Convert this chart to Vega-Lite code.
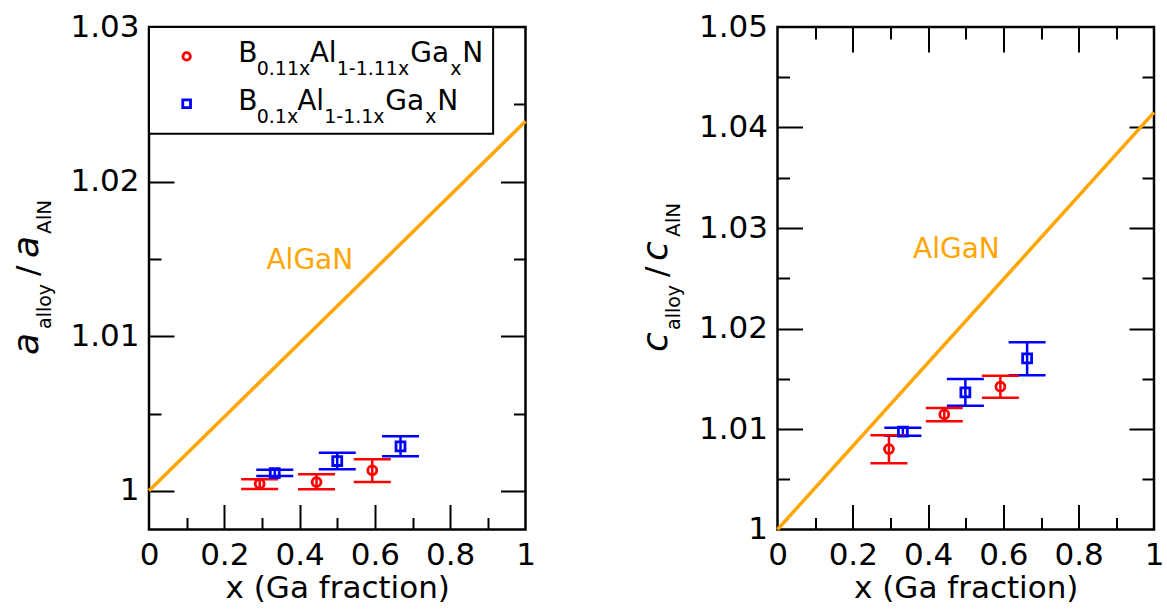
{
  "$schema": "https://vega.github.io/schema/vega-lite/v6.json",
  "padding": {"left": 8, "top": 9, "right": 0, "bottom": 0},
  "background": "white",
  "spacing": 251.5,
  "bounds": "flush",
  "config": {
    "font": "DejaVu Sans",
    "view": {"stroke": "black", "strokeWidth": 2.5},
    "axis": {
      "domain": false, "grid": false, "tickColor": "black", "tickWidth": 2,
      "labelFont": "DejaVu Sans", "labelFontSize": 31, "labelColor": "black",
      "titleFont": "DejaVu Sans", "titleFontSize": 31, "titleFontWeight": "normal", "titleColor": "black",
      "labelFlush": false, "labelOverlap": false
    }
  },
  "datasets": {
    "a": [
      {"series": "B0.11xAl1-1.11xGaxN", "x": 0.294, "y": 1.00046, "lo": 1.00012, "hi": 1.00075},
      {"series": "B0.11xAl1-1.11xGaxN", "x": 0.445, "y": 1.00057, "lo": 1.0001, "hi": 1.00107},
      {"series": "B0.11xAl1-1.11xGaxN", "x": 0.593, "y": 1.00133, "lo": 1.00057, "hi": 1.00204},
      {"series": "B0.1xAl1-1.1xGaxN", "x": 0.334, "y": 1.00115, "lo": 1.00096, "hi": 1.00137},
      {"series": "B0.1xAl1-1.1xGaxN", "x": 0.5, "y": 1.00193, "lo": 1.00139, "hi": 1.00247},
      {"series": "B0.1xAl1-1.1xGaxN", "x": 0.668, "y": 1.00288, "lo": 1.00223, "hi": 1.00353}
    ],
    "c": [
      {"series": "B0.11xAl1-1.11xGaxN", "x": 0.296, "y": 1.008, "lo": 1.0066, "hi": 1.00939},
      {"series": "B0.11xAl1-1.11xGaxN", "x": 0.443, "y": 1.01145, "lo": 1.01076, "hi": 1.01208},
      {"series": "B0.11xAl1-1.11xGaxN", "x": 0.592, "y": 1.01421, "lo": 1.01312, "hi": 1.01531},
      {"series": "B0.1xAl1-1.1xGaxN", "x": 0.333, "y": 1.00973, "lo": 1.00933, "hi": 1.01013},
      {"series": "B0.1xAl1-1.1xGaxN", "x": 0.499, "y": 1.01365, "lo": 1.01232, "hi": 1.01497},
      {"series": "B0.1xAl1-1.1xGaxN", "x": 0.663, "y": 1.01703, "lo": 1.01534, "hi": 1.01863}
    ],
    "lineA": [{"x": 0, "y": 1}, {"x": 1, "y": 1.0239}],
    "lineC": [{"x": 0, "y": 1}, {"x": 1, "y": 1.0415}]
  },
  "hconcat": [
    {
      "width": 376.5,
      "height": 502.5,
      "resolve": {"axis": {"x": "independent", "y": "independent"}},
      "layer": [
        {
          "data": {"name": "lineA"},
          "mark": {"type": "line", "color": "#ffa500", "strokeWidth": 3.5},
          "encoding": {
            "x": {"field": "x", "type": "quantitative", "scale": {"domain": [0, 1], "nice": false, "zero": false},
              "axis": {"orient": "bottom", "values": [0, 0.2, 0.4, 0.6, 0.8, 1], "format": ".1~f", "ticks": false, "labelPadding": 11, "title": "x (Ga fraction)", "titlePadding": 3}},
            "y": {"field": "y", "type": "quantitative", "scale": {"domain": [0.9975, 1.03], "nice": false, "zero": false},
              "axis": {"orient": "left", "values": [1, 1.01, 1.02, 1.03], "format": ".2~f", "ticks": false, "labelPadding": 10, "title": null}}
          }
        },
        {
          "data": {"name": "a"},
          "mark": {"type": "rule", "strokeWidth": 2.5},
          "encoding": {
            "x": {"field": "x", "type": "quantitative", "axis": {"orient": "bottom", "values": [0.2, 0.4, 0.6, 0.8], "tickSize": -25, "labels": false, "title": null}},
            "y": {"field": "lo", "type": "quantitative", "axis": {"orient": "left", "values": [1, 1.01, 1.02], "tickSize": -25, "labels": false, "title": null}},
            "y2": {"field": "hi"},
            "color": {"field": "series", "type": "nominal", "scale": {"domain": ["B0.11xAl1-1.11xGaxN", "B0.1xAl1-1.1xGaxN"], "range": ["#ff0000", "#0000ff"]}, "legend": null}
          }
        },
        {
          "data": {"name": "a"},
          "mark": {"type": "tick", "orient": "horizontal", "size": 37, "thickness": 2.5, "opacity": 1},
          "encoding": {
            "x": {"field": "x", "type": "quantitative", "axis": {"orient": "bottom", "values": [0.1, 0.3, 0.5, 0.7, 0.9], "tickSize": -12, "labels": false, "title": null}},
            "y": {"field": "lo", "type": "quantitative", "axis": {"orient": "left", "values": [1.005, 1.015, 1.025], "tickSize": -12, "labels": false, "title": null}},
            "color": {"field": "series", "type": "nominal", "legend": null}
          }
        },
        {
          "data": {"name": "a"},
          "mark": {"type": "tick", "orient": "horizontal", "size": 37, "thickness": 2.5, "opacity": 1},
          "encoding": {
            "x": {"field": "x", "type": "quantitative", "axis": {"orient": "top", "values": [0.2, 0.4, 0.6, 0.8], "tickSize": -25, "labels": false, "title": null}},
            "y": {"field": "hi", "type": "quantitative", "axis": {"orient": "right", "values": [1, 1.01, 1.02], "tickSize": -25, "labels": false, "title": null}},
            "color": {"field": "series", "type": "nominal", "legend": null}
          }
        },
        {
          "data": {"name": "a"},
          "mark": {"type": "point", "filled": false, "strokeWidth": 2.8, "size": 80, "opacity": 1},
          "encoding": {
            "x": {"field": "x", "type": "quantitative", "axis": {"orient": "top", "values": [0.1, 0.3, 0.5, 0.7, 0.9], "tickSize": -12, "labels": false, "title": null}},
            "y": {"field": "y", "type": "quantitative", "axis": {"orient": "right", "values": [1.005, 1.015, 1.025], "tickSize": -12, "labels": false, "title": null}},
            "color": {"field": "series", "type": "nominal", "legend": null},
            "shape": {"field": "series", "type": "nominal", "scale": {"domain": ["B0.11xAl1-1.11xGaxN", "B0.1xAl1-1.1xGaxN"], "range": ["circle", "square"]}, "legend": null}
          }
        },
        {
          "data": {"values": [{}]},
          "mark": {"type": "text", "text": "AlGaN", "fontSize": 28, "color": "#ffa500", "align": "left", "baseline": "alphabetic"},
          "encoding": {"x": {"datum": 0.312, "type": "quantitative", "axis": null}, "y": {"datum": 1.01435, "type": "quantitative", "axis": null}}
        },
        {
          "data": {"values": [{}]},
          "mark": {"type": "rect", "fill": "white", "stroke": "black", "strokeWidth": 2},
          "encoding": {"x": {"datum": 0, "type": "quantitative", "axis": null}, "x2": {"datum": 0.914}, "y": {"datum": 1.03, "type": "quantitative", "axis": null}, "y2": {"datum": 1.0231}}
        },
        {
          "data": {"values": [{}]},
          "mark": {"type": "point", "shape": "circle", "color": "#ff0000", "filled": false, "strokeWidth": 2.8, "size": 55, "opacity": 1},
          "encoding": {"x": {"datum": 0.1, "type": "quantitative", "axis": null}, "y": {"datum": 1.0281, "type": "quantitative", "axis": null}}
        },
        {
          "data": {"values": [{}]},
          "mark": {"type": "point", "shape": "square", "color": "#0000ff", "filled": false, "strokeWidth": 2.8, "size": 60, "opacity": 1},
          "encoding": {"x": {"datum": 0.1, "type": "quantitative", "axis": null}, "y": {"datum": 1.02504, "type": "quantitative", "axis": null}}
        },
        {"data": {"values": [{}]}, "mark": {"type": "text", "text": "B", "fontSize": 28, "align": "left", "baseline": "alphabetic", "color": "black", "dx": 0, "dy": 0},
          "encoding": {"x": {"datum": 0.2369, "type": "quantitative", "axis": null}, "y": {"datum": 1.027736, "type": "quantitative", "axis": null}}},
        {"data": {"values": [{}]}, "mark": {"type": "text", "text": "0.11x", "fontSize": 19, "align": "left", "baseline": "alphabetic", "color": "black", "dx": 18.5, "dy": 13},
          "encoding": {"x": {"datum": 0.2369, "type": "quantitative", "axis": null}, "y": {"datum": 1.027736, "type": "quantitative", "axis": null}}},
        {"data": {"values": [{}]}, "mark": {"type": "text", "text": "Al", "fontSize": 28, "align": "left", "baseline": "alphabetic", "color": "black", "dx": 71.5, "dy": 0},
          "encoding": {"x": {"datum": 0.2369, "type": "quantitative", "axis": null}, "y": {"datum": 1.027736, "type": "quantitative", "axis": null}}},
        {"data": {"values": [{}]}, "mark": {"type": "text", "text": "1-1.11x", "fontSize": 19, "align": "left", "baseline": "alphabetic", "color": "black", "dx": 98.5, "dy": 13},
          "encoding": {"x": {"datum": 0.2369, "type": "quantitative", "axis": null}, "y": {"datum": 1.027736, "type": "quantitative", "axis": null}}},
        {"data": {"values": [{}]}, "mark": {"type": "text", "text": "Ga", "fontSize": 28, "align": "left", "baseline": "alphabetic", "color": "black", "dx": 172, "dy": 0},
          "encoding": {"x": {"datum": 0.2369, "type": "quantitative", "axis": null}, "y": {"datum": 1.027736, "type": "quantitative", "axis": null}}},
        {"data": {"values": [{}]}, "mark": {"type": "text", "text": "x", "fontSize": 19, "align": "left", "baseline": "alphabetic", "color": "black", "dx": 212, "dy": 13},
          "encoding": {"x": {"datum": 0.2369, "type": "quantitative", "axis": null}, "y": {"datum": 1.027736, "type": "quantitative", "axis": null}}},
        {"data": {"values": [{}]}, "mark": {"type": "text", "text": "N", "fontSize": 28, "align": "left", "baseline": "alphabetic", "color": "black", "dx": 224, "dy": 0},
          "encoding": {"x": {"datum": 0.2369, "type": "quantitative", "axis": null}, "y": {"datum": 1.027736, "type": "quantitative", "axis": null}}},
        {"data": {"values": [{}]}, "mark": {"type": "text", "text": "B", "fontSize": 28, "align": "left", "baseline": "alphabetic", "color": "black", "dx": 0, "dy": 0},
          "encoding": {"x": {"datum": 0.2369, "type": "quantitative", "axis": null}, "y": {"datum": 1.024612, "type": "quantitative", "axis": null}}},
        {"data": {"values": [{}]}, "mark": {"type": "text", "text": "0.1x", "fontSize": 19, "align": "left", "baseline": "alphabetic", "color": "black", "dx": 18.5, "dy": 13},
          "encoding": {"x": {"datum": 0.2369, "type": "quantitative", "axis": null}, "y": {"datum": 1.024612, "type": "quantitative", "axis": null}}},
        {"data": {"values": [{}]}, "mark": {"type": "text", "text": "Al", "fontSize": 28, "align": "left", "baseline": "alphabetic", "color": "black", "dx": 59, "dy": 0},
          "encoding": {"x": {"datum": 0.2369, "type": "quantitative", "axis": null}, "y": {"datum": 1.024612, "type": "quantitative", "axis": null}}},
        {"data": {"values": [{}]}, "mark": {"type": "text", "text": "1-1.1x", "fontSize": 19, "align": "left", "baseline": "alphabetic", "color": "black", "dx": 86, "dy": 13},
          "encoding": {"x": {"datum": 0.2369, "type": "quantitative", "axis": null}, "y": {"datum": 1.024612, "type": "quantitative", "axis": null}}},
        {"data": {"values": [{}]}, "mark": {"type": "text", "text": "Ga", "fontSize": 28, "align": "left", "baseline": "alphabetic", "color": "black", "dx": 147, "dy": 0},
          "encoding": {"x": {"datum": 0.2369, "type": "quantitative", "axis": null}, "y": {"datum": 1.024612, "type": "quantitative", "axis": null}}},
        {"data": {"values": [{}]}, "mark": {"type": "text", "text": "x", "fontSize": 19, "align": "left", "baseline": "alphabetic", "color": "black", "dx": 187, "dy": 13},
          "encoding": {"x": {"datum": 0.2369, "type": "quantitative", "axis": null}, "y": {"datum": 1.024612, "type": "quantitative", "axis": null}}},
        {"data": {"values": [{}]}, "mark": {"type": "text", "text": "N", "fontSize": 28, "align": "left", "baseline": "alphabetic", "color": "black", "dx": 199, "dy": 0},
          "encoding": {"x": {"datum": 0.2369, "type": "quantitative", "axis": null}, "y": {"datum": 1.024612, "type": "quantitative", "axis": null}}},
        {"data": {"values": [{}]}, "mark": {"type": "text", "text": "a", "fontSize": 36, "fontStyle": "italic", "angle": 270, "align": "left", "baseline": "alphabetic", "color": "black", "dx": 0, "dy": 0},
          "encoding": {"x": {"datum": -0.2935, "type": "quantitative", "axis": null}, "y": {"datum": 1.008786, "type": "quantitative", "axis": null}}},
        {"data": {"values": [{}]}, "mark": {"type": "text", "text": "alloy", "fontSize": 19, "angle": 270, "align": "left", "baseline": "alphabetic", "color": "black", "dx": 26, "dy": 13},
          "encoding": {"x": {"datum": -0.2935, "type": "quantitative", "axis": null}, "y": {"datum": 1.008786, "type": "quantitative", "axis": null}}},
        {"data": {"values": [{}]}, "mark": {"type": "text", "text": "/", "fontSize": 31, "angle": 270, "align": "left", "baseline": "alphabetic", "color": "black", "dx": 79, "dy": 0},
          "encoding": {"x": {"datum": -0.2935, "type": "quantitative", "axis": null}, "y": {"datum": 1.008786, "type": "quantitative", "axis": null}}},
        {"data": {"values": [{}]}, "mark": {"type": "text", "text": "a", "fontSize": 36, "fontStyle": "italic", "angle": 270, "align": "left", "baseline": "alphabetic", "color": "black", "dx": 97, "dy": 0},
          "encoding": {"x": {"datum": -0.2935, "type": "quantitative", "axis": null}, "y": {"datum": 1.008786, "type": "quantitative", "axis": null}}},
        {"data": {"values": [{}]}, "mark": {"type": "text", "text": "AlN", "fontSize": 20, "angle": 270, "align": "left", "baseline": "alphabetic", "color": "black", "dx": 121, "dy": 13},
          "encoding": {"x": {"datum": -0.2935, "type": "quantitative", "axis": null}, "y": {"datum": 1.008786, "type": "quantitative", "axis": null}}}
      ]
    },
    {
      "width": 376.5,
      "height": 502.5,
      "resolve": {"axis": {"x": "independent", "y": "independent"}},
      "layer": [
        {
          "data": {"name": "lineC"},
          "mark": {"type": "line", "color": "#ffa500", "strokeWidth": 3.5},
          "encoding": {
            "x": {"field": "x", "type": "quantitative", "scale": {"domain": [0, 1], "nice": false, "zero": false},
              "axis": {"orient": "bottom", "values": [0, 0.2, 0.4, 0.6, 0.8, 1], "format": ".1~f", "ticks": false, "labelPadding": 11, "title": "x (Ga fraction)", "titlePadding": 3}},
            "y": {"field": "y", "type": "quantitative", "scale": {"domain": [1, 1.05], "nice": false, "zero": false},
              "axis": {"orient": "left", "values": [1, 1.01, 1.02, 1.03, 1.04, 1.05], "format": ".2~f", "ticks": false, "labelPadding": 10, "title": null}}
          }
        },
        {
          "data": {"name": "c"},
          "mark": {"type": "rule", "strokeWidth": 2.5},
          "encoding": {
            "x": {"field": "x", "type": "quantitative", "axis": {"orient": "bottom", "values": [0.2, 0.4, 0.6, 0.8], "tickSize": -25, "labels": false, "title": null}},
            "y": {"field": "lo", "type": "quantitative", "axis": {"orient": "left", "values": [1.01, 1.02, 1.03, 1.04], "tickSize": -25, "labels": false, "title": null}},
            "y2": {"field": "hi"},
            "color": {"field": "series", "type": "nominal", "scale": {"domain": ["B0.11xAl1-1.11xGaxN", "B0.1xAl1-1.1xGaxN"], "range": ["#ff0000", "#0000ff"]}, "legend": null}
          }
        },
        {
          "data": {"name": "c"},
          "mark": {"type": "tick", "orient": "horizontal", "size": 37, "thickness": 2.5, "opacity": 1},
          "encoding": {
            "x": {"field": "x", "type": "quantitative", "axis": {"orient": "bottom", "values": [0.1, 0.3, 0.5, 0.7, 0.9], "tickSize": -12, "labels": false, "title": null}},
            "y": {"field": "lo", "type": "quantitative", "axis": {"orient": "left", "values": [1.005, 1.015, 1.025, 1.035, 1.045], "tickSize": -12, "labels": false, "title": null}},
            "color": {"field": "series", "type": "nominal", "legend": null}
          }
        },
        {
          "data": {"name": "c"},
          "mark": {"type": "tick", "orient": "horizontal", "size": 37, "thickness": 2.5, "opacity": 1},
          "encoding": {
            "x": {"field": "x", "type": "quantitative", "axis": {"orient": "top", "values": [0.2, 0.4, 0.6, 0.8], "tickSize": -25, "labels": false, "title": null}},
            "y": {"field": "hi", "type": "quantitative", "axis": {"orient": "right", "values": [1.01, 1.02, 1.03, 1.04], "tickSize": -25, "labels": false, "title": null}},
            "color": {"field": "series", "type": "nominal", "legend": null}
          }
        },
        {
          "data": {"name": "c"},
          "mark": {"type": "point", "filled": false, "strokeWidth": 2.8, "size": 80, "opacity": 1},
          "encoding": {
            "x": {"field": "x", "type": "quantitative", "axis": {"orient": "top", "values": [0.1, 0.3, 0.5, 0.7, 0.9], "tickSize": -12, "labels": false, "title": null}},
            "y": {"field": "y", "type": "quantitative", "axis": {"orient": "right", "values": [1.005, 1.015, 1.025, 1.035, 1.045], "tickSize": -12, "labels": false, "title": null}},
            "color": {"field": "series", "type": "nominal", "legend": null},
            "shape": {"field": "series", "type": "nominal", "scale": {"domain": ["B0.11xAl1-1.11xGaxN", "B0.1xAl1-1.1xGaxN"], "range": ["circle", "square"]}, "legend": null}
          }
        },
        {
          "data": {"values": [{}]},
          "mark": {"type": "text", "text": "AlGaN", "fontSize": 28, "color": "#ffa500", "align": "left", "baseline": "alphabetic"},
          "encoding": {"x": {"datum": 0.36, "type": "quantitative", "axis": null}, "y": {"datum": 1.027, "type": "quantitative", "axis": null}}
        },
        {"data": {"values": [{}]}, "mark": {"type": "text", "text": "c", "fontSize": 36, "fontStyle": "italic", "angle": 270, "align": "left", "baseline": "alphabetic", "color": "black", "dx": 0, "dy": 0},
          "encoding": {"x": {"datum": -0.2937, "type": "quantitative", "axis": null}, "y": {"datum": 1.017662, "type": "quantitative", "axis": null}}},
        {"data": {"values": [{}]}, "mark": {"type": "text", "text": "alloy", "fontSize": 19, "angle": 270, "align": "left", "baseline": "alphabetic", "color": "black", "dx": 22, "dy": 13},
          "encoding": {"x": {"datum": -0.2937, "type": "quantitative", "axis": null}, "y": {"datum": 1.017662, "type": "quantitative", "axis": null}}},
        {"data": {"values": [{}]}, "mark": {"type": "text", "text": "/", "fontSize": 31, "angle": 270, "align": "left", "baseline": "alphabetic", "color": "black", "dx": 75, "dy": 0},
          "encoding": {"x": {"datum": -0.2937, "type": "quantitative", "axis": null}, "y": {"datum": 1.017662, "type": "quantitative", "axis": null}}},
        {"data": {"values": [{}]}, "mark": {"type": "text", "text": "c", "fontSize": 36, "fontStyle": "italic", "angle": 270, "align": "left", "baseline": "alphabetic", "color": "black", "dx": 91, "dy": 0},
          "encoding": {"x": {"datum": -0.2937, "type": "quantitative", "axis": null}, "y": {"datum": 1.017662, "type": "quantitative", "axis": null}}},
        {"data": {"values": [{}]}, "mark": {"type": "text", "text": "AlN", "fontSize": 20, "angle": 270, "align": "left", "baseline": "alphabetic", "color": "black", "dx": 115, "dy": 13},
          "encoding": {"x": {"datum": -0.2937, "type": "quantitative", "axis": null}, "y": {"datum": 1.017662, "type": "quantitative", "axis": null}}}
      ]
    }
  ]
}
